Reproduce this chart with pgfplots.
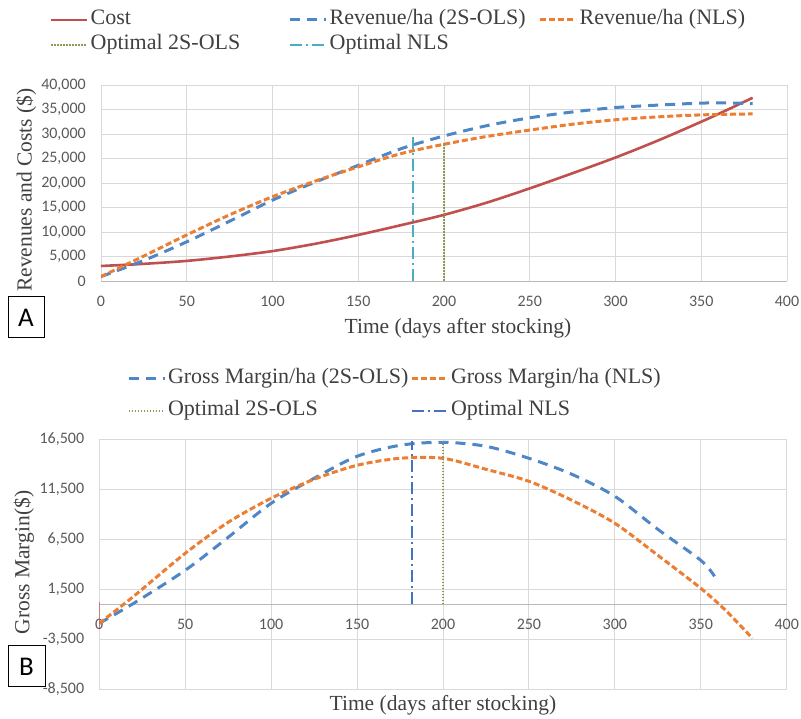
\documentclass[border=0pt]{standalone}
\usepackage{fontspec}
\setmainfont{Liberation Serif}
\newfontfamily\calib{Carlito}
\usepackage{pgfplots}
\pgfplotsset{compat=1.18}

\definecolor{CostRed}{HTML}{C0504D}
\definecolor{RevBlue}{HTML}{4F86C6}
\definecolor{RevOrange}{HTML}{ED7D31}
\definecolor{OptCyan}{HTML}{4BACC6}
\definecolor{OptBlue}{HTML}{4472C4}
\definecolor{OptOlive}{HTML}{8C9A55}
\definecolor{TickGray}{HTML}{595959}
\definecolor{LabelGray}{HTML}{404040}
\definecolor{GridGray}{HTML}{D9D9D9}

\pgfplotsset{
  excelbase/.style={
    scale only axis,
    xmin=0, xmax=400, xtick={0,50,...,400},
    axis x line*=bottom, axis y line*=left,
    every inner x axis line/.append style={-},
    every outer x axis line/.append style={-},
    y axis line style={draw=none},
    x axis line style={-, draw=gray!55, line width=0.9pt},
    major tick length=0pt,
    grid=major, grid style={draw=GridGray, line width=0.9pt},
    tick label style={font=\calib\fontsize{16}{18}\selectfont, text=TickGray, inner sep=0pt},
    /pgf/number format/assume math mode=true,
    /pgf/number format/1000 sep={,},
    scaled y ticks=false,
    yticklabel style={anchor=east, xshift=-15pt},
    xticklabel style={anchor=north, yshift=-15pt},
    label style={font=\fontsize{21.5}{25}\selectfont, text=LabelGray},
    legend style={draw=none, fill=none, inner sep=0pt, outer sep=0pt, anchor=north west,
      font=\fontsize{22}{26}\selectfont, text=LabelGray,
      nodes={inner sep=2pt, text height=15pt, text depth=5pt}},
    legend cell align=left,
    legend image code/.code={\draw[##1] (0pt,0pt) -- (36pt,0pt);},
  },
  costline/.style={CostRed, line width=2.6pt},
  olsdash/.style={RevBlue, line width=3pt, dash pattern=on 10pt off 7pt},
  nlsdash/.style={RevOrange, line width=3pt, dash pattern=on 6pt off 3pt},
  optols/.style={OptOlive, line width=2.2pt, dash pattern=on 1.5pt off 1.5pt},
  optnls/.style={line width=2.5pt, dash pattern=on 12pt off 4pt on 2pt off 4pt},
}

\begin{document}
\begin{tikzpicture}
\path (0pt,0pt) rectangle (801pt,715pt);

% panel A: revenues and costs
\begin{axis}[excelbase,
  at={(101pt,434pt)}, anchor=south west,
  width=686pt, height=196pt,
  ymin=0, ymax=40000, ytick={0,5000,...,40000},
  xlabel={Time (days after stocking)},
  ylabel={Revenues and Costs (\$)},
  xlabel style={at={(axis description cs:0.5204,-0.2398)}, anchor=center},
  ylabel style={at={(axis description cs:-0.1093,0.464)}, anchor=center},
  legend columns=3,
  legend style={at={(axis description cs:-0.0743,1.393)}, row sep=1pt},
]
\addplot[costline, smooth] coordinates {
  (0,3060) (25,3500) (50,4100) (75,5000) (100,6100) (125,7600) (150,9400)
  (175,11400) (200,13500) (225,16000) (250,18900) (275,22000) (300,25200)
  (325,28700) (350,32500) (365,34900) (380,37400)};
\addlegendentry{\makebox[196pt][l]{Cost}}
\addplot[olsdash, smooth] coordinates {
  (0,900) (25,4200) (50,8000) (75,12200) (100,16500) (125,20200) (150,23600)
  (175,27000) (200,29600) (225,31700) (250,33300) (275,34500) (300,35400)
  (325,35900) (350,36300) (365,36350) (380,36200)};
\addlegendentry{\makebox[207pt][l]{Revenue/ha (2S-OLS)}}
\addplot[nlsdash, smooth] coordinates {
  (0,900) (25,5100) (50,9400) (75,13500) (100,17200) (125,20400) (150,23300)
  (175,26000) (200,27900) (225,29500) (250,30800) (275,32000) (300,32900)
  (325,33500) (350,33900) (380,34100)};
\addlegendentry{Revenue/ha (NLS)}
\addplot[optols] coordinates {(200,0) (200,28200)};
\addlegendentry{\makebox[196pt][l]{Optimal 2S-OLS}}
\addplot[optnls, OptCyan] coordinates {(182,0) (182,30200)};
\addlegendentry{Optimal NLS}
\end{axis}

% panel B: gross margin
\begin{axis}[excelbase,
  at={(99.3pt,25.7pt)}, anchor=south west,
  width=687.4pt, height=250pt,
  axis x line*=middle, hide obscured x ticks=false,
  ymin=-8500, ymax=16500, ytick={-8500,-3500,1500,6500,11500,16500},
  xlabel={Time (days after stocking)},
  ylabel={Gross Margin(\$)},
  xlabel style={at={(axis description cs:0.5,-0.0628)}, anchor=center},
  ylabel style={at={(axis description cs:-0.1095,0.507)}, anchor=center},
  legend columns=2,
  legend style={at={(axis description cs:0.0403,1.2892)}, row sep=8pt},
]
\addplot[olsdash, smooth] coordinates {
  (0,-1900) (20,100) (50,3400) (75,6700) (100,10100) (125,12600) (150,14800)
  (175,15900) (200,16200) (225,15800) (250,14600) (275,13000) (300,10800)
  (325,7500) (350,4400) (358,2800)};
\addlegendentry{\makebox[240pt][l]{Gross Margin/ha (2S-OLS)}}
\addplot[nlsdash, smooth] coordinates {
  (0,-1900) (20,800) (50,5100) (75,8200) (100,10600) (125,12500) (150,13900)
  (175,14600) (200,14600) (225,13500) (250,12300) (275,10400) (300,8100)
  (325,4900) (350,1600) (365,-700) (380,-3400)};
\addlegendentry{Gross Margin/ha (NLS)}
\addplot[optols] coordinates {(200,0) (200,16400)};
\addlegendentry{\makebox[240pt][l]{Optimal 2S-OLS}}
\addplot[optnls, OptBlue] coordinates {(182,0) (182,16300)};
\addlegendentry{Optimal NLS}
\addplot[CostRed, line width=1pt, forget plot] coordinates {(0,200) (0,-2400)};
\end{axis}

\node[draw=black, line width=1pt, minimum width=36pt, minimum height=41pt, inner sep=0pt,
  font=\calib\fontsize{27}{30}\selectfont] at (26pt,397.5pt) {A};
\node[draw=black, line width=1pt, minimum width=37pt, minimum height=41pt, inner sep=0pt,
  font=\calib\fontsize{27}{30}\selectfont] at (26.5pt,48.5pt) {B};
\end{tikzpicture}
\end{document}
